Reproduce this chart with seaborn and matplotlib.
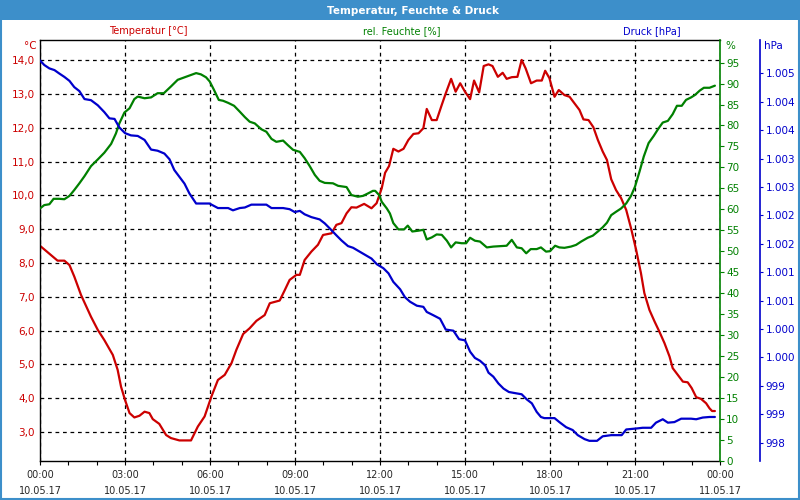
import math
import matplotlib
matplotlib.use("Agg")
import matplotlib.pyplot as plt
import matplotlib.ticker as mticker
from matplotlib.patches import Rectangle
import seaborn as sns

# hours since 10.05.17 00:00
temp_h = [0.0, 0.62, 0.86, 1.04, 1.21, 1.45, 1.80, 2.04, 2.27, 2.57,
          2.74, 2.86, 3.0, 3.16, 3.33, 3.51, 3.69, 3.86, 3.98, 4.21,
          4.45, 4.62, 4.92, 5.33, 5.57, 5.81, 6.05, 6.28, 6.52, 6.76,
          6.93, 7.17, 7.40, 7.64, 7.93, 8.11, 8.46, 8.64, 8.81, 9.05,
          9.17, 9.34, 9.58, 9.81, 9.99, 10.29, 10.46, 10.64, 10.82, 10.99,
          11.17, 11.44, 11.70, 11.88, 12.06, 12.18, 12.32, 12.47, 12.65, 12.83,
          13.0, 13.18, 13.36, 13.53, 13.65, 13.83, 14.0, 14.18, 14.32, 14.51,
          14.67, 14.83, 15.0, 15.18, 15.32, 15.5, 15.66, 15.83, 15.97, 16.16,
          16.33, 16.47, 16.65, 16.85, 17.0, 17.14, 17.33, 17.53, 17.71, 17.83,
          17.98, 18.16, 18.31, 18.51, 18.69, 18.86, 19.04, 19.18, 19.36, 19.53,
          19.69, 19.86, 20.01, 20.16, 20.33, 20.51, 20.69, 20.86, 21.04, 21.21,
          21.33, 21.51, 21.69, 21.86, 22.04, 22.22, 22.33, 22.51, 22.69, 22.86,
          23.0, 23.16, 23.33, 23.51, 23.63, 23.72, 23.82]
temp_c = [8.51, 8.07, 8.07, 7.94, 7.6, 7.05, 6.41, 6.02, 5.72, 5.28,
          4.84, 4.34, 3.95, 3.56, 3.43, 3.48, 3.6, 3.56, 3.38, 3.24,
          2.91, 2.82, 2.75, 2.75, 3.16, 3.46, 4.05, 4.54, 4.69, 5.04,
          5.43, 5.9, 6.07, 6.29, 6.46, 6.81, 6.89, 7.2, 7.5, 7.65,
          7.65, 8.09, 8.34, 8.54, 8.83, 8.88, 9.13, 9.18, 9.47, 9.65,
          9.64, 9.75, 9.62, 9.77, 10.21, 10.67, 10.87, 11.38, 11.3, 11.38,
          11.64, 11.82, 11.84, 11.99, 12.56, 12.23, 12.23, 12.68, 13.02, 13.45,
          13.07, 13.32, 13.07, 12.85, 13.4, 13.05, 13.83, 13.88, 13.83, 13.51,
          13.63, 13.45, 13.5, 13.51, 14.01, 13.76, 13.32, 13.4, 13.4, 13.69,
          13.47, 12.92, 13.12, 12.97, 12.92, 12.73, 12.53, 12.25, 12.23, 12.02,
          11.64, 11.3, 11.05, 10.48, 10.16, 9.92, 9.57, 9.03, 8.39, 7.7,
          7.11, 6.61, 6.27, 5.97, 5.63, 5.23, 4.89, 4.69, 4.49, 4.47,
          4.3, 4.03, 3.98, 3.85, 3.7, 3.62, 3.62]

hum_h = [0.0, 0.15, 0.33, 0.48, 0.68, 0.86, 1.04, 1.21, 1.39, 1.57,
         1.80, 2.04, 2.27, 2.51, 2.68, 2.80, 2.98, 3.16, 3.33, 3.45,
         3.69, 3.92, 4.15, 4.37, 4.62, 4.86, 5.10, 5.33, 5.51, 5.68,
         5.86, 5.99, 6.14, 6.31, 6.46, 6.64, 6.85, 7.05, 7.23, 7.40,
         7.58, 7.81, 7.99, 8.17, 8.34, 8.58, 8.75, 8.93, 9.17, 9.34,
         9.52, 9.70, 9.87, 10.05, 10.34, 10.52, 10.82, 10.99, 11.22, 11.40,
         11.58, 11.75, 11.83, 11.97, 12.06, 12.24, 12.35, 12.47, 12.65, 12.85,
         12.98, 13.14, 13.36, 13.53, 13.65, 13.83, 14.0, 14.18, 14.36, 14.51,
         14.67, 14.88, 15.04, 15.18, 15.35, 15.53, 15.77, 16.0, 16.24, 16.47,
         16.65, 16.83, 17.0, 17.16, 17.32, 17.53, 17.68, 17.86, 18.0, 18.18,
         18.33, 18.51, 18.74, 18.92, 19.1, 19.33, 19.51, 19.69, 19.86, 20.01,
         20.16, 20.33, 20.51, 20.69, 20.86, 21.0, 21.16, 21.31, 21.48, 21.66,
         21.83, 21.98, 22.16, 22.33, 22.48, 22.65, 22.8, 22.98, 23.12, 23.28,
         23.43, 23.63, 23.82]
hum_pct = [60.2, 61.0, 61.2, 62.5, 62.5, 62.4, 63.2, 64.6, 66.2, 67.9,
           70.3, 71.9, 73.5, 75.6, 78.1, 80.5, 83.1, 84.1, 86.3, 86.9,
           86.5, 86.7, 87.7, 87.7, 89.3, 90.9, 91.5, 92.1, 92.5, 92.2,
           91.5, 90.5, 88.5, 86.1, 85.9, 85.4, 84.7, 83.3, 82.0, 80.9,
           80.5, 79.1, 78.5, 76.8, 76.1, 76.4, 75.3, 74.2, 73.7, 72.2,
           70.3, 68.2, 66.8, 66.3, 66.2, 65.6, 65.3, 63.4, 63.0, 63.2,
           63.8, 64.4, 64.4, 63.4, 61.8, 60.2, 59.0, 56.7, 55.2, 55.2,
           56.1, 54.7, 54.9, 55.1, 52.8, 53.3, 54.0, 53.9, 52.5, 50.9,
           52.1, 51.9, 51.9, 53.2, 52.5, 52.3, 50.9, 51.1, 51.2, 51.3,
           52.7, 50.9, 50.7, 49.5, 50.5, 50.5, 50.9, 49.9, 50.0, 51.3,
           50.9, 50.8, 51.1, 51.5, 52.3, 53.2, 53.7, 54.7, 55.7, 56.8,
           58.6, 59.4, 60.2, 61.4, 63.2, 65.4, 69.0, 72.6, 75.8, 77.5,
           79.3, 80.7, 81.1, 82.7, 84.7, 84.7, 86.1, 86.7, 87.3, 88.3,
           89.0, 89.0, 89.5]

press_h = [0.0, 0.15, 0.33, 0.51, 0.68, 0.86, 1.04, 1.21, 1.39, 1.57,
           1.80, 2.04, 2.27, 2.45, 2.63, 2.80, 3.0, 3.21, 3.45, 3.69,
           3.92, 4.15, 4.39, 4.57, 4.74, 4.92, 5.10, 5.27, 5.51, 5.98,
           6.28, 6.64, 6.81, 7.05, 7.23, 7.46, 7.99, 8.17, 8.58, 8.81,
           8.99, 9.17, 9.34, 9.58, 9.87, 10.05, 10.23, 10.46, 10.64, 10.87,
           11.05, 11.22, 11.46, 11.70, 11.89, 12.12, 12.3, 12.47, 12.71, 12.88,
           13.06, 13.3, 13.53, 13.65, 13.89, 14.12, 14.32, 14.59, 14.79, 15.0,
           15.18, 15.35, 15.53, 15.71, 15.83, 16.0, 16.18, 16.36, 16.55, 16.77,
           17.0, 17.18, 17.36, 17.53, 17.68, 17.80, 18.16, 18.33, 18.57, 18.8,
           18.98, 19.22, 19.39, 19.66, 19.86, 20.16, 20.53, 20.69, 21.1, 21.27,
           21.57, 21.74, 21.98, 22.16, 22.39, 22.63, 22.98, 23.16, 23.39, 23.63,
           23.82]
press_hpa = [1004.73, 1004.65, 1004.59, 1004.56, 1004.5, 1004.44, 1004.37, 1004.26, 1004.19, 1004.05,
             1004.03, 1003.94, 1003.82, 1003.71, 1003.70, 1003.55, 1003.45, 1003.41, 1003.40, 1003.33,
             1003.16, 1003.14, 1003.09, 1002.99, 1002.80, 1002.68, 1002.56, 1002.39, 1002.21, 1002.21,
             1002.13, 1002.13, 1002.09, 1002.13, 1002.14, 1002.19, 1002.19, 1002.13, 1002.13, 1002.11,
             1002.06, 1002.08, 1002.02, 1001.97, 1001.93, 1001.86, 1001.77, 1001.65, 1001.56, 1001.46,
             1001.43, 1001.38, 1001.31, 1001.24, 1001.14, 1001.07, 1000.98, 1000.83, 1000.70, 1000.56,
             1000.48, 1000.41, 1000.39, 1000.30, 1000.24, 1000.18, 999.99, 999.97, 999.82, 999.80,
             999.60, 999.49, 999.44, 999.36, 999.23, 999.16, 999.04, 998.95, 998.89, 998.87,
             998.85, 998.76, 998.69, 998.54, 998.45, 998.43, 998.43, 998.36, 998.27, 998.22,
             998.13, 998.06, 998.03, 998.03, 998.11, 998.13, 998.13, 998.23, 998.25, 998.26,
             998.26, 998.35, 998.41, 998.35, 998.36, 998.42, 998.42, 998.41, 998.44, 998.45,
             998.45]

x_ticks = [0, 3, 6, 9, 12, 15, 18, 21, 24]
x_labels = ["00:00\n10.05.17", "03:00\n10.05.17", "06:00\n10.05.17",
            "09:00\n10.05.17", "12:00\n10.05.17", "15:00\n10.05.17",
            "18:00\n10.05.17", "21:00\n10.05.17", "00:00\n11.05.17"]

RED = "#cc0000"
GREEN = "#008000"
BLUE = "#0000cc"
BAR = "#3d8fca"

sns.set_style("white")
plt.rcParams["font.family"] = ["DejaVu Sans"]
plt.rcParams["font.size"] = 7

fig = plt.figure(figsize=(8, 5), dpi=100)
fig.patch.set_facecolor("white")

# title bar + frame
fig.patches.append(Rectangle((0, 1 - 20 / 500), 1, 20 / 500, transform=fig.transFigure,
                             facecolor=BAR, edgecolor="none", zorder=0))
fig.patches.append(Rectangle((0.001, 0.002), 0.998, 0.996, transform=fig.transFigure,
                             facecolor="none", edgecolor=BAR, linewidth=1.5, zorder=5))
fig.text(413 / 800, 1 - 10.5 / 500, "Temperatur, Feuchte & Druck", color="white",
         fontsize=7.5, fontweight="bold", ha="center", va="center")

ax = fig.add_axes([40 / 800, 1 - 460.7 / 500, 680 / 800, 420.7 / 500])
ax_h = ax.twinx()
ax_p = ax.twinx()

sns.lineplot(x=temp_h, y=temp_c, ax=ax, color=RED, linewidth=1.6)
sns.lineplot(x=hum_h, y=hum_pct, ax=ax_h, color=GREEN, linewidth=1.6)
sns.lineplot(x=press_h, y=press_hpa, ax=ax_p, color=BLUE, linewidth=1.6)

# x axis
ax.set_xlim(0, 24)
ax.set_xticks(x_ticks)
ax.set_xticklabels(x_labels, linespacing=1.75)
ax.xaxis.set_minor_locator(mticker.MultipleLocator(1))
ax.tick_params(axis="x", which="both", direction="out", length=3, width=0.8,
               color="black", pad=4, labelsize=7, bottom=True)

# temperature axis
ax.set_ylim(2.15, 14.6)
ax.set_yticks(range(3, 15))
ax.yaxis.set_major_formatter(mticker.FuncFormatter(lambda v, p: f"{v:.1f}".replace(".", ",")))
ax.tick_params(axis="y", length=0, pad=4, labelcolor=RED, labelsize=7.5)
ax.grid(True, which="major", color="black", linestyle=(0, (3, 3)), linewidth=0.9)
for s in ["left", "bottom", "top"]:
    ax.spines[s].set_color("black")
    ax.spines[s].set_linewidth(1)
ax.spines["right"].set_visible(False)
ax.set_xlabel("")
ax.set_ylabel("")

# humidity axis
ax_h.set_ylim(0, 100.4)
ax_h.set_yticks(range(0, 100, 5))
ax_h.tick_params(axis="y", direction="out", length=3, width=0.8, color=GREEN,
                 labelcolor=GREEN, pad=1.5, labelsize=7.5)
for s in ["left", "bottom", "top"]:
    ax_h.spines[s].set_visible(False)
ax_h.spines["right"].set_color(GREEN)
ax_h.spines["right"].set_linewidth(1.2)
ax_h.set_ylabel("")

# pressure axis
def hpa_fmt(v, p):
    n = int(math.floor(v + 0.5))
    return f"{n:,}".replace(",", ".")

ax_p.set_ylim(997.68, 1005.09)
ax_p.set_yticks([998 + 0.5 * i for i in range(14)])
ax_p.yaxis.set_major_formatter(mticker.FuncFormatter(hpa_fmt))
ax_p.spines["right"].set_position(("axes", 720 / 680))
for s in ["left", "bottom", "top"]:
    ax_p.spines[s].set_visible(False)
ax_p.spines["right"].set_color(BLUE)
ax_p.spines["right"].set_linewidth(1.2)
ax_p.tick_params(axis="y", direction="out", length=2.5, width=0.8, color=BLUE,
                 labelcolor=BLUE, pad=1.5, labelsize=7.5)
ax_p.set_ylabel("")

# headers and units
fig.text(148 / 800, 1 - 31.5 / 500, "Temperatur [°C]", color=RED, fontsize=7, ha="center", va="center")
fig.text(402 / 800, 1 - 31.5 / 500, "rel. Feuchte [%]", color=GREEN, fontsize=7, ha="center", va="center")
fig.text(652 / 800, 1 - 31.5 / 500, "Druck [hPa]", color=BLUE, fontsize=7, ha="center", va="center")
fig.text(37 / 800, 1 - 46 / 500, "°C", color=RED, fontsize=7.5, ha="right", va="center")
fig.text(725 / 800, 1 - 46 / 500, "%", color=GREEN, fontsize=7.5, ha="left", va="center")
fig.text(764 / 800, 1 - 46 / 500, "hPa", color=BLUE, fontsize=7.5, ha="left", va="center")

fig.savefig("out.png", dpi=100, facecolor="white")
